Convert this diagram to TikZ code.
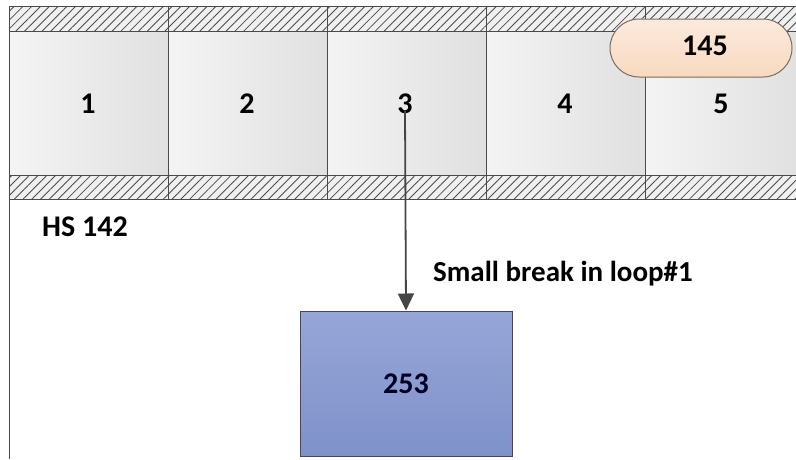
\documentclass[tikz,border=0pt]{standalone}
\usepackage{fontspec}
\setmainfont{Carlito}
\usetikzlibrary{patterns.meta,arrows.meta,shapes.misc}

\definecolor{edgegrey}{HTML}{4A4A4A}
\definecolor{celllight}{HTML}{F4F4F4}
\definecolor{celldark}{HTML}{E0E0E0}
\definecolor{bandbg}{HTML}{F0F0F0}
\definecolor{hatchgrey}{HTML}{4C4C4C}
\definecolor{peachtop}{HTML}{FCEADC}
\definecolor{peachbot}{HTML}{F8D9C0}
\definecolor{peachedge}{HTML}{7C6B5C}
\definecolor{bluetop}{HTML}{97A6D8}
\definecolor{bluebot}{HTML}{7E91C9}
\definecolor{blueedge}{HTML}{46485A}
\definecolor{arrowgrey}{HTML}{454545}

\tikzset{
  labelfont/.style={font=\fontsize{30}{34}\selectfont\bfseries},
  cell/.style={draw=edgegrey, line width=0.9pt, minimum width=159pt,
    minimum height=144pt, inner sep=0pt, left color=celllight,
    right color=celldark},
  band/.style={draw=edgegrey, line width=0.9pt, minimum width=159pt,
    minimum height=25pt, inner sep=0pt, fill=bandbg,
    postaction={pattern={Lines[angle=45,distance=6.2pt,line width=0.85pt]},
      pattern color=hatchgrey}},
  pill/.style={rounded rectangle, draw=peachedge, line width=1pt,
    minimum width=182pt, minimum height=58pt, inner sep=0pt,
    top color=peachtop, bottom color=peachbot},
  tankbox/.style={draw=blueedge, line width=1pt, minimum width=212pt,
    minimum height=145pt, inner sep=0pt, top color=bluetop,
    bottom color=bluebot, labelfont, text=black!85!blue},
  flow/.style={draw=arrowgrey, line width=1.8pt,
    -{Triangle[length=17pt,width=16pt]}},
  caption/.style={anchor=west, inner sep=0pt},
}

\begin{document}
\begin{tikzpicture}[x=1pt,y=-1pt]
  \useasboundingbox (0,0) rectangle (796,459);
  \fill[white] (0,0) rectangle (796,459);
  \clip (0,0) rectangle (796,459);

  % row of five sections with hatched walls above and below
  \foreach \i/\x in {1/88.5,2/247.5,3/406.5,4/565.5,5/724.5}{
    \node[band] (t\i) at (\x,18.5) {};
    \node[band] (b\i) at (\x,187) {};
    \node[cell] (c\i) at (\x,103) {};
  }
  \node[labelfont] (n1) at (88,104) {1};
  \node[labelfont] (n2) at (247,104) {2};
  \node[labelfont] (n3) at (405,104) {3};
  \node[labelfont] (n4) at (565,104) {4};
  \node[labelfont] (n5) at (721,104) {5};

  % outer frame lines
  \draw[edgegrey, line width=1pt] (9,6) -- (796,6);
  \draw[edgegrey, line width=1pt] (9,6) -- (9,459);

  % heat structure tag on section 5
  \node[pill] (p145) at (701,48) {};
  \node[labelfont] (t145) at (705,46) {145};

  \node[caption, labelfont] (hs) at (42,227) {HS 142};

  % break flow into the receiving volume
  \node[tankbox] (v253) at (406,383.5) {253};
  \draw[flow] ([yshift=-7pt]n3.center) -- (v253.north);
  \node[caption, font=\fontsize{29}{33}\selectfont\bfseries] (brk) at (433,274) {Small break in loop\#1};
\end{tikzpicture}
\end{document}
